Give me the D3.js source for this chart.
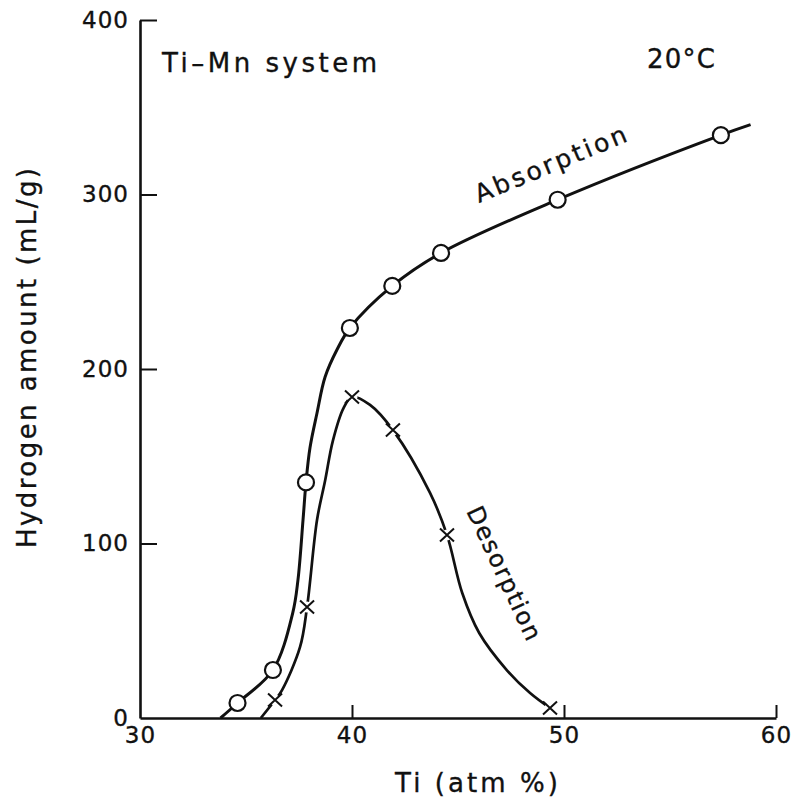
<!DOCTYPE html>
<html>
<head>
<meta charset="utf-8">
<script src="https://cdn.jsdelivr.net/npm/d3@7"></script>
<style>
  body { margin: 0; background: #fff; }
  text { font-family: "DejaVu Sans", sans-serif; fill: #111; stroke: #111; stroke-width: 0.35px; }
</style>
</head>
<body>
<div id="chart"></div>
<script>
// Values (Ti atm %, hydrogen mL/g)
// measured = true where the figure shows a marker; others trace the drawn curve
var absorptionTi = [33.8, 34.6, 36.27, 37.2, 37.45, 37.69, 37.83, 38.02, 38.35, 38.73, 39.29, 39.9, 41.9, 44.2, 49.7, 57.4, 58.8];
var absorptionH  = [0, 8.6, 27.5, 60, 79, 113.5, 135, 155, 174.8, 195.4, 211, 223.5, 247.6, 266.5, 297, 334, 340];
var absorptionMeasured = [false, true, true, false, false, false, true, false, false, false, false, true, true, true, true, true, false];

var desorptionTi = [35.7, 36.37, 36.7, 37.55, 37.88, 38.35, 38.73, 39.1, 39.6, 40.0, 40.85, 41.93, 43.68, 44.48, 45.2, 46.0, 47.3, 48.4, 49.34];
var desorptionH  = [0, 10.3, 16, 40.7, 63.6, 113.5, 136, 159, 177.6, 184, 179.4, 165, 129, 104.9, 71.6, 48.7, 27.5, 14.3, 5.7];
var desorptionMeasured = [false, true, false, false, true, false, false, false, false, true, false, true, false, true, false, false, false, false, true];

var xTicks = [30, 40, 50, 60];
var yTicks = [0, 100, 200, 300, 400];

function init() {
    var W = 796, H = 801;
    var left = 140, right = 776, top = 20, bottom = 718;

    var svg = d3.select("#chart")
        .append("svg")
        .attr("width", W)
        .attr("height", H);

    var xScale = d3.scaleLinear().domain([30, 60]).range([left, right]);
    var yScale = d3.scaleLinear().domain([0, 400]).range([bottom, top]);

    function pts(xs, ys, flags) {
        return xs.map(function (x, i) { return { x: x, y: ys[i], m: flags[i] }; });
    }
    var absorption = pts(absorptionTi, absorptionH, absorptionMeasured);
    var desorption = pts(desorptionTi, desorptionH, desorptionMeasured);

    // Axes (ticks point inward, like the original plot)
    var xAxis = d3.axisBottom(xScale).tickValues(xTicks).tickSizeInner(-13).tickSizeOuter(0).tickPadding(9);
    var yAxis = d3.axisLeft(yScale).tickValues(yTicks).tickSizeInner(-17).tickSizeOuter(0).tickPadding(11);

    var gx = svg.append("g")
        .attr("transform", "translate(0," + bottom + ")")
        .call(xAxis);
    var gy = svg.append("g")
        .attr("transform", "translate(" + left + ",0)")
        .call(yAxis);

    [gx, gy].forEach(function (g) {
        g.select(".domain").attr("stroke", "#111").attr("stroke-width", 2.6);
        g.selectAll(".tick line").attr("stroke", "#111").attr("stroke-width", 2);
        g.selectAll(".tick text")
            .style("font-family", "'DejaVu Sans', sans-serif")
            .style("font-size", "23px")
            .style("letter-spacing", "1px")
            .attr("fill", "#111");
    });
    gx.selectAll(".tick").filter(function (d) { return d === 30; }).select("line").remove();
    gy.selectAll(".tick").filter(function (d) { return d === 0; }).select("line").remove();

    // Curves
    var line = d3.line()
        .x(function (d) { return xScale(d.x); })
        .y(function (d) { return yScale(d.y); })
        .curve(d3.curveCatmullRom.alpha(0.5));

    svg.append("path")
        .datum(absorption)
        .attr("fill", "none")
        .attr("stroke", "#111")
        .attr("stroke-width", 3)
        .attr("d", line);

    svg.append("path")
        .datum(desorption)
        .attr("fill", "none")
        .attr("stroke", "#111")
        .attr("stroke-width", 2.7)
        .attr("d", line);

    // Markers
    svg.selectAll(".abs-pt")
        .data(absorption.filter(function (d) { return d.m; }))
        .enter().append("circle")
        .attr("class", "abs-pt")
        .attr("cx", function (d) { return xScale(d.x); })
        .attr("cy", function (d) { return yScale(d.y); })
        .attr("r", 8)
        .attr("fill", "#fff")
        .attr("stroke", "#111")
        .attr("stroke-width", 2.2);

    var des = svg.selectAll(".des-pt")
        .data(desorption.filter(function (d) { return d.m; }))
        .enter().append("g")
        .attr("class", "des-pt")
        .attr("transform", function (d) { return "translate(" + xScale(d.x) + "," + yScale(d.y) + ")"; });
    des.append("circle").attr("r", 5.5).attr("fill", "#fff");
    des.append("path")
        .attr("d", "M-7,-6.5L7,6.5M-7,6.5L7,-6.5")
        .attr("stroke", "#111")
        .attr("stroke-width", 2);

    // Annotations
    svg.append("text")
        .attr("x", 162).attr("y", 72)
        .attr("textLength", 215).attr("lengthAdjust", "spacing")
        .style("font-size", "26px")
        .text("Ti\u2013Mn system");

    svg.append("text")
        .attr("x", 647).attr("y", 68)
        .attr("textLength", 68).attr("lengthAdjust", "spacing")
        .style("font-size", "26px")
        .text("20\u00b0C");

    svg.append("text")
        .attr("transform", "translate(479,203) rotate(-22.5)")
        .attr("textLength", 162).attr("lengthAdjust", "spacing")
        .style("font-size", "25px")
        .text("Absorption");

    svg.append("text")
        .attr("transform", "translate(466,511) rotate(65)")
        .attr("textLength", 145).attr("lengthAdjust", "spacing")
        .style("font-size", "24px")
        .text("Desorption");

    // Axis labels
    svg.append("text")
        .attr("x", 395).attr("y", 792)
        .attr("textLength", 163).attr("lengthAdjust", "spacing")
        .style("font-size", "26px")
        .text("Ti (atm %)");

    svg.append("text")
        .attr("transform", "translate(36,548) rotate(-90)")
        .attr("textLength", 380).attr("lengthAdjust", "spacing")
        .style("font-size", "26px")
        .text("Hydrogen amount (mL/g)");
}

init();
</script>
</body>
</html>
